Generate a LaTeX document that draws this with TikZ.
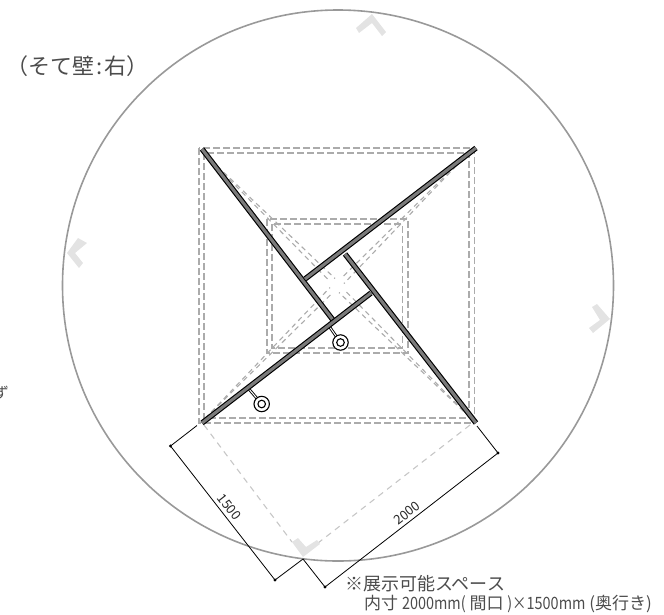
\documentclass[tikz,border=0pt]{standalone}
\usepackage{fontspec}
\setmainfont{Noto Sans CJK JP}
\begin{document}
\begin{tikzpicture}[x=1pt,y=-1pt,
  rectdash/.style={draw=black!33,line width=1.15pt,dash pattern=on 7pt off 3pt},
  diagdash/.style={draw=black!33,line width=1.1pt,dash pattern=on 5pt off 4pt},
  spacedash/.style={draw=black!22,line width=1.1pt,dash pattern=on 6pt off 5pt},
  chevron/.style={fill=black!11,draw=none},
  wallout/.style={draw=black,line width=5.4pt},
  wallin/.style={draw=black!52,line width=3.1pt},
  hand/.style={draw=black,line width=1.1pt,fill=white},
  dim/.style={draw=black,line width=.8pt},
  dimdot/.style={fill=black,circle,inner sep=0pt,minimum size=3.2pt},
  lbl/.style={text=black!70,inner sep=0pt}]
\useasboundingbox (0,0) rectangle (664,614);
\clip (0,0) rectangle (664,614);
% dashed frames
\draw[rectdash] (199,148) rectangle (474.5,423);
\draw[rectdash] (204,153) rectangle (469,418);
\draw[rectdash] (267,219) rectangle (408,353);
\draw[rectdash] (272,224) rectangle (402.5,348);
% diagonals
\foreach \a in {0,90,180,270}{
  \begin{scope}[shift={(337,285.5)},rotate=\a]
    \draw[diagdash] (-133,-132) -- (-2,-7);
    \draw[diagdash] (-133,-132) -- (-7,-4);
  \end{scope}
}
% space outline
\draw[spacedash] (204,425) -- (292,542);
\draw[spacedash] (470,425) -- (318,543);
% chevrons
\fill[chevron] (356,28) -- (372,14) -- (386,32) -- (382,36) -- (372,23) -- (359,33) -- cycle;
\fill[chevron] (78,238) -- (87,243) -- (75,253) -- (83,263) -- (79,268) -- (67,253) -- cycle;
\fill[chevron] (592,307) -- (597,304) -- (610,319) -- (593,333) -- (589,328) -- (600,320) -- cycle;
\fill[chevron] (292,542) -- (298,538) -- (306,547) -- (317,540) -- (320,544) -- (303,557) -- cycle;
% room circle
\draw[draw=black!40,line width=1.6pt] (338,285.5) circle[radius=275.5];
% handles
\coordinate (h1a) at (329,326);
\coordinate (h1b) at (340.5,342.5);
\coordinate (h2a) at (248.5,388.5);
\coordinate (h2b) at (261.7,404);
\draw[draw=black,line width=2.8pt] (h1a) -- (h1b);
\draw[draw=white,line width=1pt] (h1a) -- (h1b);
\draw[draw=black,line width=2.8pt] (h2a) -- (h2b);
\draw[draw=white,line width=1pt] (h2a) -- (h2b);
\draw[hand] (h1b) circle[radius=7.7];
\draw[hand] (h1b) circle[radius=3.8];
\draw[hand] (h2b) circle[radius=7.7];
\draw[hand] (h2b) circle[radius=3.8];
% walls
\coordinate (w1a) at (202,149); \coordinate (w1b) at (333,320);
\coordinate (w2a) at (476,148); \coordinate (w2b) at (305,279);
\coordinate (w3a) at (476,423); \coordinate (w3b) at (345,254);
\coordinate (w4a) at (202,423); \coordinate (w4b) at (371,293);
\foreach \p/\q in {w1a/w1b,w2a/w2b,w3a/w3b,w4a/w4b}{
  \draw[wallout] (\p) -- (\q);
  \draw[wallin] (\p) -- (\q);
}
% dimensions
\node[dimdot] (d1) at (170.5,446) {};
\node[dimdot] (d2) at (275,580) {};
\node[dimdot] (d3) at (325,587) {};
\node[dimdot] (d4) at (498,453) {};
\coordinate (e1) at (197,425.5);
\coordinate (e2) at (303,559);
\coordinate (e3) at (477,426);
\draw[dim] (e1) -- (d1.center) -- (d2.center) -- (e2) -- (d3.center) -- (d4.center) -- (e3);
% labels
\node[rotate=-52,inner sep=0pt,text=black!85,font=\fontsize{13}{13}\selectfont] (n1500) at (229.5,507) {1500};
\node[rotate=38,inner sep=0pt,text=black!85,font=\fontsize{13}{13}\selectfont] (n2000) at (407,513) {2000};
\node[lbl,anchor=west,font=\fontsize{22}{22}\selectfont] (title) at (6,66) {（そて壁\kern2pt:\kern2pt 右）};
\node[lbl,anchor=west,font=\fontsize{18}{18}\selectfont] (note1) at (345,584) {※展示可能スペース};
\node[lbl,anchor=west,font=\fontsize{17}{17}\selectfont] (note2) at (364,604) {内寸 \scalebox{.85}[1]{2000mm(} 間口 \scalebox{.85}[1]{)×1500mm} (奥行き)};
\node[lbl,anchor=east,font=\fontsize{15}{15}\selectfont] (cut) at (9,393) {ず};
\end{tikzpicture}
\end{document}
